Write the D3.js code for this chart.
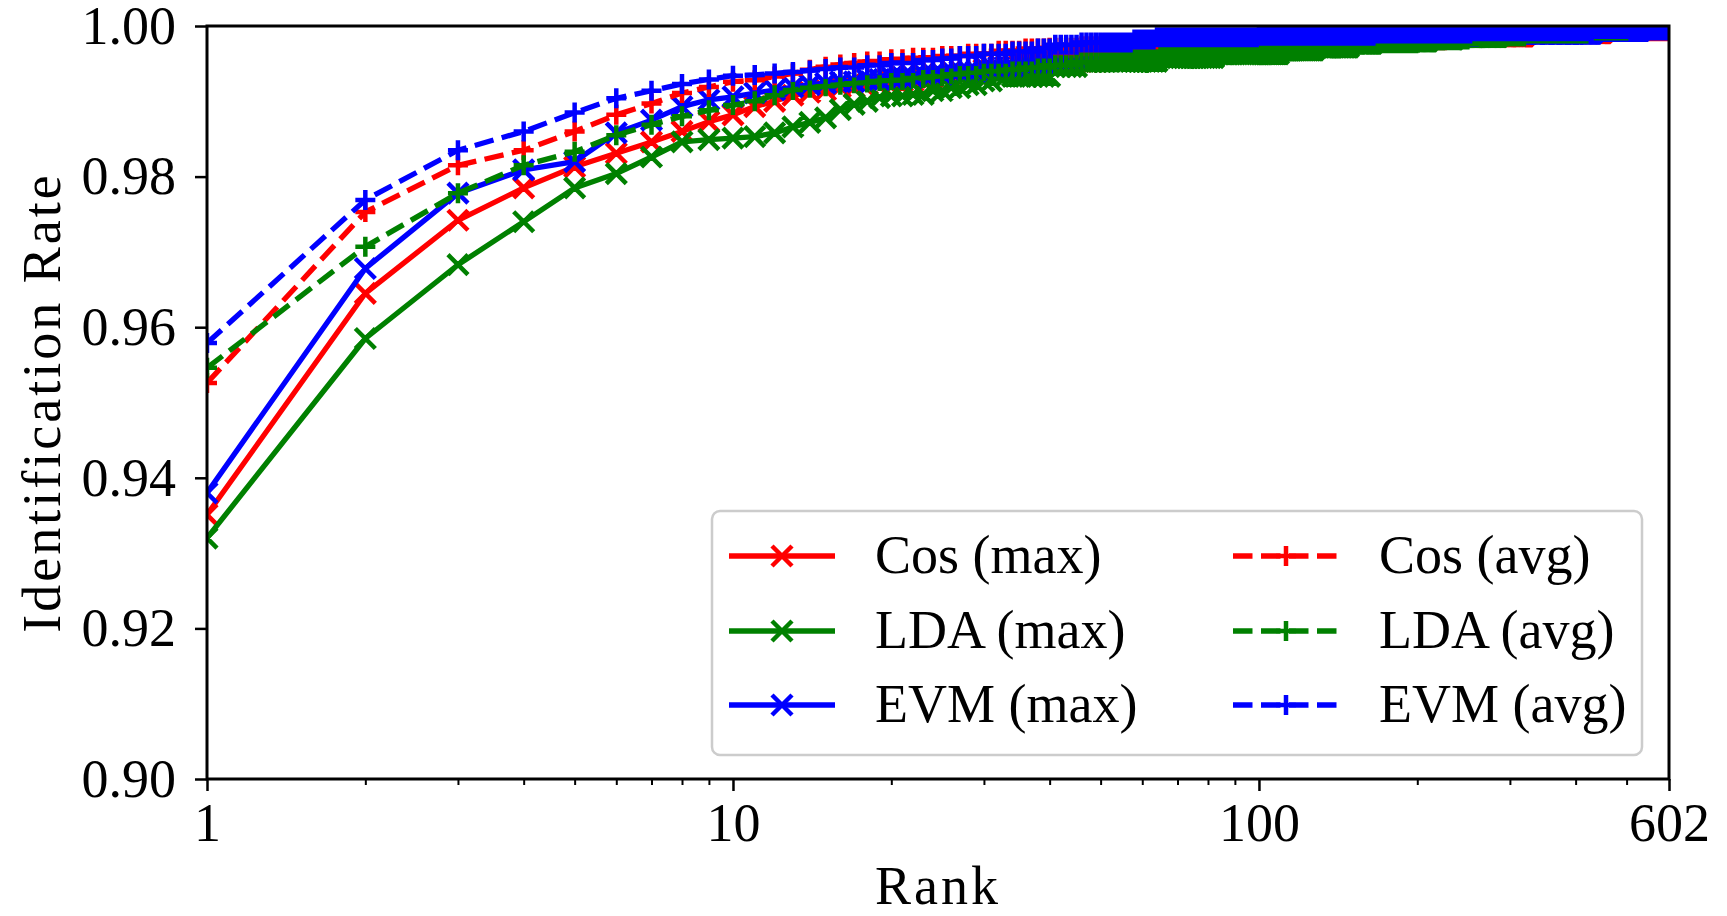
<!DOCTYPE html>
<html>
<head>
<meta charset="utf-8">
<script src="https://cdn.jsdelivr.net/npm/d3@7"></script>
<style>
    body { margin: 0; background: #fff; }
    .chartDiv { width: 1727px; height: 916px; }
    text { font-family: "Liberation Serif", "DejaVu Serif", serif; fill: #000; }
</style>
</head>
<body>
<div class="chartDiv"></div>
<script>
// #region Data
// every series is kept as [rank, rate] points; the rate holds until the next listed rank
let maxRank = 602;
let xTickValues = [1, 10, 100, 602];
let xMinorTicks = [2, 3, 4, 5, 6, 7, 8, 9, 20, 30, 40, 50, 60, 70, 80, 90, 200, 300, 400, 500];
let yTickValues = [0.90, 0.92, 0.94, 0.96, 0.98, 1.00];

let cosMax = [[1, 0.9351], [2, 0.9645], [3, 0.9742], [4, 0.9785], [5, 0.9813], [6, 0.9831], [7, 0.9846], [8, 0.9860], [9, 0.9873], [10, 0.9882], [11, 0.9893], [12, 0.9900], [13, 0.9908],
    [14, 0.9912], [15, 0.9915], [16, 0.9919], [18, 0.9923], [20, 0.9927], [23, 0.9932], [26, 0.9937], [30, 0.9942], [35, 0.9947], [40, 0.9953], [50, 0.9960], [60, 0.9965], [80, 0.9972],
    [110, 0.9978], [150, 0.9983], [220, 0.9987], [320, 0.9991], [450, 0.9995], [602, 1.0]];
let ldaMax = [[1, 0.9320], [2, 0.9585], [3, 0.9683], [4, 0.9740], [5, 0.9785], [6, 0.9804], [7, 0.9826], [8, 0.9846], [9, 0.9849], [10, 0.9851], [11, 0.9853], [12, 0.9858], [13, 0.9866],
    [14, 0.9872], [15, 0.9878], [16, 0.9889], [17, 0.9896], [18, 0.9900], [19, 0.9905], [20, 0.9907], [22, 0.9909], [24, 0.9914], [26, 0.9918], [28, 0.9922], [30, 0.9927], [32, 0.9933],
    [41, 0.9946], [46, 0.9953], [65, 0.9958], [83, 0.9963], [110, 0.9968], [128, 0.9972], [149, 0.9977], [165, 0.9980], [210, 0.9983], [235, 0.9986], [285, 0.9991], [380, 0.9994], [425, 0.9997], [602, 1.0]];
let evmMax = [[1, 0.9380], [2, 0.9678], [3, 0.9778], [4, 0.9809], [5, 0.9820], [6, 0.9858], [7, 0.9875], [8, 0.9893], [9, 0.9902], [10, 0.9906], [11, 0.9911], [12, 0.9915], [13, 0.9919],
    [14, 0.9922], [15, 0.9924], [16, 0.9926], [18, 0.9929], [20, 0.9932], [23, 0.9936], [26, 0.9940], [30, 0.9946], [35, 0.9952], [40, 0.9958], [46, 0.9966], [55, 0.9972], [70, 0.9978],
    [84, 0.9982], [127, 0.9985], [166, 0.9988], [253, 0.9990], [430, 0.9994], [530, 0.9996], [602, 1.0]];
let cosAvg = [[1, 0.9526], [2, 0.9753], [3, 0.9815], [4, 0.9835], [5, 0.9860], [6, 0.9882], [7, 0.9897], [8, 0.9911], [9, 0.9919], [10, 0.9926], [11, 0.9928], [12, 0.9933], [13, 0.9937],
    [14, 0.9942], [15, 0.9946], [16, 0.9949], [17, 0.9951], [18, 0.9953], [20, 0.9956], [22, 0.9958], [25, 0.9960], [28, 0.9963], [32, 0.9967], [36, 0.9970], [40, 0.9971], [46, 0.9973],
    [55, 0.9977], [70, 0.9981], [90, 0.9984], [120, 0.9987], [160, 0.9990], [250, 0.9993], [400, 0.9996], [602, 1.0]];
let ldaAvg = [[1, 0.9546], [2, 0.9707], [3, 0.9778], [4, 0.9815], [5, 0.9833], [6, 0.9855], [7, 0.9869], [8, 0.9880], [9, 0.9888], [10, 0.9895], [11, 0.9900], [12, 0.9908], [13, 0.9915],
    [14, 0.9918], [15, 0.9920], [16, 0.9922], [17, 0.9924], [18, 0.9925], [19, 0.9927], [20, 0.9928], [22, 0.9931], [24, 0.9933], [26, 0.9936], [28, 0.9938], [30, 0.9940], [33, 0.9942],
    [36, 0.9945], [40, 0.9948], [45, 0.9952], [55, 0.9956], [65, 0.9960], [80, 0.9964], [100, 0.9968], [125, 0.9972], [150, 0.9977], [200, 0.9982], [250, 0.9986], [320, 0.9990],
    [420, 0.9994], [500, 0.9997], [602, 1.0]];
let evmAvg = [[1, 0.9579], [2, 0.9769], [3, 0.9835], [4, 0.9860], [5, 0.9885], [6, 0.9904], [7, 0.9914], [8, 0.9923], [9, 0.9929], [10, 0.9934], [11, 0.9935], [12, 0.9937], [13, 0.9939],
    [14, 0.9941], [15, 0.9943], [16, 0.9945], [18, 0.9948], [20, 0.9951], [23, 0.9955], [25, 0.9957], [27, 0.9960], [30, 0.9963], [34, 0.9966], [38, 0.9970], [41, 0.9975], [46, 0.9978],
    [58, 0.9982], [64, 0.9985], [100, 0.9987], [166, 0.9990], [253, 0.9993], [430, 0.9996], [602, 1.0]];

let seriesNames = ['Cos (max)', 'LDA (max)', 'EVM (max)', 'Cos (avg)', 'LDA (avg)', 'EVM (avg)'];
let seriesData = [cosMax, ldaMax, evmMax, cosAvg, ldaAvg, evmAvg];
let seriesColors = ['#ff0000', '#008000', '#0000ff', '#ff0000', '#008000', '#0000ff'];
let seriesDashed = [false, false, false, true, true, true];
// #endregion

function expandSteps(steps) {
    // one value per rank, keeping the last listed rate
    let out = [];
    let k = 0;
    for (let r = 1; r <= maxRank; r++) {
        while (k + 1 < steps.length && steps[k + 1][0] <= r) k++;
        out.push({ rank: r, value: steps[k][1] });
    }
    return out;
}

function markerPath(points, dashed, xScale, yScale, h) {
    let p = '';
    points.forEach(d => {
        let cx = xScale(d.rank), cy = yScale(d.value);
        if (dashed) {
            p += 'M' + (cx - h) + ',' + cy + 'L' + (cx + h) + ',' + cy + 'M' + cx + ',' + (cy - h) + 'L' + cx + ',' + (cy + h);
        } else {
            p += 'M' + (cx - h) + ',' + (cy - h) + 'L' + (cx + h) + ',' + (cy + h) + 'M' + (cx - h) + ',' + (cy + h) + 'L' + (cx + h) + ',' + (cy - h);
        }
    });
    return p;
}

function DrawRankChart({ divClassName, width, height }) {
    let left = 207, right = 1669, top = 26, bottom = 779;
    let lineW = 5.3, markW = 4.5, markH = 10;

    let svg = d3.select('.' + divClassName)
        .append('svg')
        .attr('width', width)
        .attr('height', height);

    svg.append('defs').append('clipPath')
        .attr('id', 'plotClip')
        .append('rect')
        .attr('x', left).attr('y', top)
        .attr('width', right - left).attr('height', bottom - top);

    let xScale = d3.scaleLog().domain([1, maxRank]).range([left, right]);
    let yScale = d3.scaleLinear().domain([0.90, 1.00]).range([bottom, top]);

    // #region Axes
    let gX = svg.append('g')
        .attr('transform', 'translate(0,' + bottom + ')')
        .call(d3.axisBottom(xScale).tickValues(xTickValues).tickFormat(d3.format('d')).tickSize(12).tickPadding(12));
    svg.append('g')
        .attr('transform', 'translate(0,' + bottom + ')')
        .call(d3.axisBottom(xScale).tickValues(xMinorTicks).tickFormat('').tickSize(6))
        .selectAll('line').attr('stroke-width', 2);
    let gY = svg.append('g')
        .attr('transform', 'translate(' + left + ',0)')
        .call(d3.axisLeft(yScale).tickValues(yTickValues).tickFormat(d3.format('.2f')).tickSize(12).tickPadding(19));

    svg.selectAll('.domain').remove();
    gX.selectAll('line').attr('stroke-width', 2.5);
    gY.selectAll('line').attr('stroke-width', 2.5);
    svg.selectAll('.tick text')
        .attr('font-size', 54)
        .attr('font-family', '"Liberation Serif", serif')
        .attr('fill', '#000');

    svg.append('text')
        .attr('transform', 'translate(60,' + ((top + bottom) / 2) + ') rotate(-90)')
        .attr('text-anchor', 'middle')
        .attr('font-size', 54)
        .attr('letter-spacing', 3)
        .text('Identification Rate');
    svg.append('text')
        .attr('x', (left + right) / 2)
        .attr('y', 904)
        .attr('text-anchor', 'middle')
        .attr('font-size', 54)
        .attr('letter-spacing', 3)
        .text('Rank');
    // #endregion

    // #region Lines
    let gLines = svg.append('g').attr('clip-path', 'url(#plotClip)');
    let line = d3.line().x(d => xScale(d.rank)).y(d => yScale(d.value));

    seriesData.forEach((steps, i) => {
        let pts = expandSteps(steps);
        gLines.append('path')
            .attr('d', line(pts))
            .attr('fill', 'none')
            .attr('stroke', seriesColors[i])
            .attr('stroke-width', lineW)
            .attr('stroke-linejoin', 'round')
            .attr('stroke-dasharray', seriesDashed[i] ? '19.5,8.5' : null);
        gLines.append('path')
            .attr('d', markerPath(pts, seriesDashed[i], xScale, yScale, markH))
            .attr('fill', 'none')
            .attr('stroke', seriesColors[i])
            .attr('stroke-width', markW);
    });
    // #endregion

    // frame
    svg.append('rect')
        .attr('x', left).attr('y', top)
        .attr('width', right - left).attr('height', bottom - top)
        .attr('fill', 'none')
        .attr('stroke', '#000')
        .attr('stroke-width', 3);

    // #region Legend
    let gLegend = svg.append('g').attr('class', 'gLegend');
    gLegend.append('rect')
        .attr('x', 712).attr('y', 511)
        .attr('width', 930).attr('height', 244)
        .attr('rx', 8)
        .attr('fill', '#fff').attr('fill-opacity', 0.8)
        .attr('stroke', '#cccccc').attr('stroke-width', 2.5);

    let rowY = [556, 631, 705];
    let colX = [729, 1233];
    seriesNames.forEach((name, i) => {
        let col = Math.floor(i / 3), row = i % 3;
        let x0 = colX[col], y0 = rowY[row];
        gLegend.append('line')
            .attr('x1', x0).attr('x2', x0 + 106)
            .attr('y1', y0).attr('y2', y0)
            .attr('stroke', seriesColors[i])
            .attr('stroke-width', lineW)
            .attr('stroke-dasharray', seriesDashed[i] ? '19.5,8.5' : null);
        let mx = x0 + 53;
        let h = markH;
        gLegend.append('path')
            .attr('d', seriesDashed[i]
                ? 'M' + (mx - h) + ',' + y0 + 'L' + (mx + h) + ',' + y0 + 'M' + mx + ',' + (y0 - h) + 'L' + mx + ',' + (y0 + h)
                : 'M' + (mx - h) + ',' + (y0 - h) + 'L' + (mx + h) + ',' + (y0 + h) + 'M' + (mx - h) + ',' + (y0 + h) + 'L' + (mx + h) + ',' + (y0 - h))
            .attr('fill', 'none')
            .attr('stroke', seriesColors[i])
            .attr('stroke-width', markW);
        gLegend.append('text')
            .attr('x', x0 + 146)
            .attr('y', y0 + 17)
            .attr('font-size', 54)
            .text(name);
    });
    // #endregion

    return svg;
}

DrawRankChart({ divClassName: 'chartDiv', width: 1727, height: 916 });
</script>
</body>
</html>
